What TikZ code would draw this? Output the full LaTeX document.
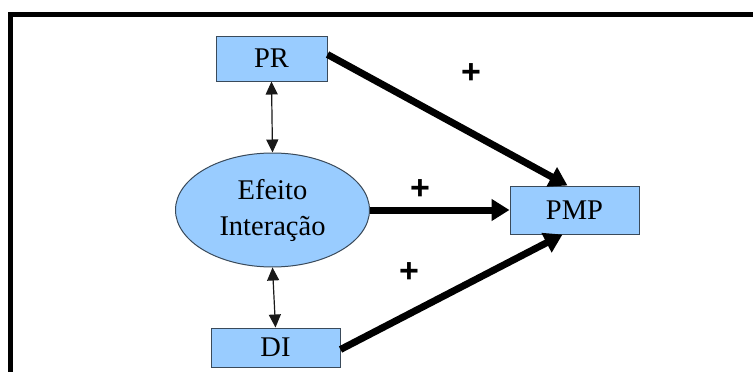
\documentclass[tikz,border=0pt]{standalone}
\usepackage{fontspec}
\setmainfont{LiberationSerif}[Extension=.ttf, UprightFont=*-Regular, BoldFont=*-Bold]
\newfontfamily\plusfont{Liberation Sans}
\usetikzlibrary{shapes.geometric,arrows.meta,calc}
\definecolor{boxfill}{HTML}{99CCFF}
\definecolor{boxline}{HTML}{3A4A5A}
\tikzset{
  box/.style={draw=boxline, line width=1pt, fill=boxfill, rectangle, inner sep=0pt,
    font=\rmfamily\fontsize{28.5}{32}\selectfont},
  oval/.style={draw=boxline, line width=1pt, fill=boxfill, ellipse, inner sep=0pt,
    minimum width=194pt, minimum height=114pt, align=center,
    font=\rmfamily\fontsize{28.5}{36}\selectfont},
  thick arrow/.style={line width=7pt, -{Triangle[length=18pt,width=21pt]}},
  thin arrow/.style={line width=1.2pt, draw=black!90, {Triangle[length=13pt,width=12pt]}-{Triangle[length=13pt,width=12pt]}},
  plus/.style={font=\plusfont\bfseries\fontsize{34}{34}\selectfont, inner sep=0pt}
}
\begin{document}
\begin{tikzpicture}[x=1pt,y=-1pt]
\useasboundingbox (0,0) rectangle (753,372);
\clip (0,0) rectangle (753,372);
\fill[white] (0,0) rectangle (753,372);
\draw[line width=5pt] (10.5,400) -- (10.5,14.5) -- (780,14.5);
\node[box, minimum width=111pt, minimum height=45pt] (PR) at (271.5,58.5) {PR};
\node[box, minimum width=129pt, minimum height=39pt] (DI) at (275.5,347.5) {DI};
\node[box, minimum width=129pt, minimum height=48pt] (PMP) at (574.5,210) {PMP};
\node[oval] (E) at (272.5,210) {Efeito\\Interação};
\draw[thin arrow] (PR.south) -- (E.north);
\draw[thin arrow] (E.south) -- (DI.north);
\coordinate (PRout) at ($(PR.east)+(0,-4)$);
\coordinate (PMPtop) at ($(PMP.north)+(-7,0)$);
\coordinate (DIout) at ($(DI.east)+(0,2)$);
\coordinate (PMPbot) at ($(PMP.south)+(-12,0)$);
\draw[thick arrow] (PRout) -- (PMPtop);
\draw[thick arrow] (E.east) -- (PMP.west);
\draw[thick arrow] (DIout) -- (PMPbot);
\node[plus] (p1) at (471,74) {+};
\node[plus] (p2) at (420,190) {+};
\node[plus] (p3) at (409,273) {+};
\end{tikzpicture}
\end{document}
